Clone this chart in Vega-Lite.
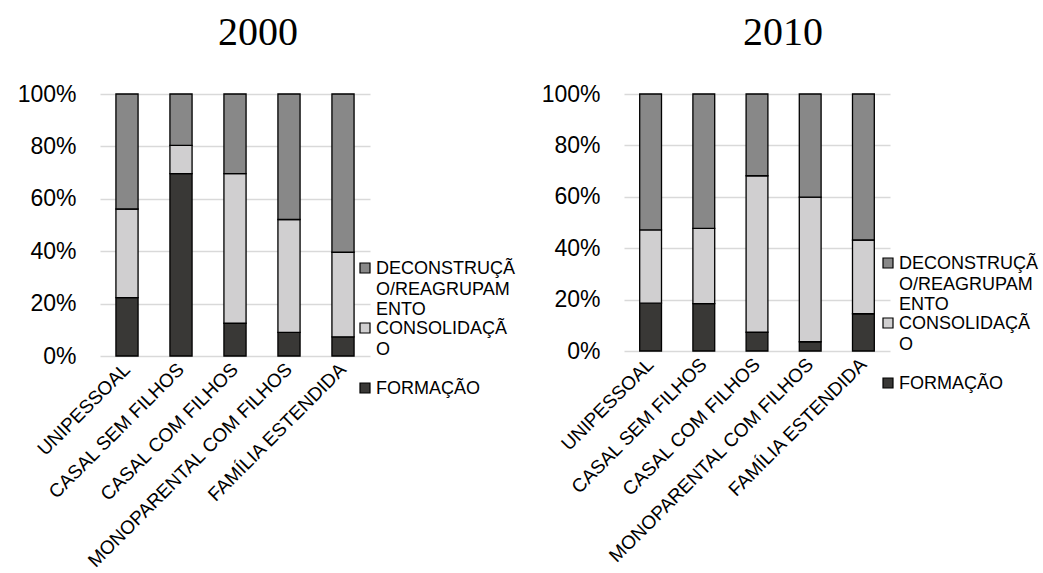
{
  "$schema": "https://vega.github.io/schema/vega-lite/v6.json",
  "padding": {"left": 17, "top": 13, "right": 0, "bottom": 0},
  "background": "white",
  "data": {"values": [
    {"ano": "2000", "tipo": "UNIPESSOAL", "fase": "FORMAÇÃO", "ordem": 1, "valor": 22.3},
    {"ano": "2000", "tipo": "UNIPESSOAL", "fase": "CONSOLIDAÇÃO", "ordem": 2, "valor": 33.8},
    {"ano": "2000", "tipo": "UNIPESSOAL", "fase": "DECONSTRUÇÃO/REAGRUPAMENTO", "ordem": 3, "valor": 43.9},
    {"ano": "2000", "tipo": "CASAL SEM FILHOS", "fase": "FORMAÇÃO", "ordem": 1, "valor": 69.6},
    {"ano": "2000", "tipo": "CASAL SEM FILHOS", "fase": "CONSOLIDAÇÃO", "ordem": 2, "valor": 10.8},
    {"ano": "2000", "tipo": "CASAL SEM FILHOS", "fase": "DECONSTRUÇÃO/REAGRUPAMENTO", "ordem": 3, "valor": 19.6},
    {"ano": "2000", "tipo": "CASAL COM FILHOS", "fase": "FORMAÇÃO", "ordem": 1, "valor": 12.5},
    {"ano": "2000", "tipo": "CASAL COM FILHOS", "fase": "CONSOLIDAÇÃO", "ordem": 2, "valor": 57.1},
    {"ano": "2000", "tipo": "CASAL COM FILHOS", "fase": "DECONSTRUÇÃO/REAGRUPAMENTO", "ordem": 3, "valor": 30.4},
    {"ano": "2000", "tipo": "MONOPARENTAL COM FILHOS", "fase": "FORMAÇÃO", "ordem": 1, "valor": 9.0},
    {"ano": "2000", "tipo": "MONOPARENTAL COM FILHOS", "fase": "CONSOLIDAÇÃO", "ordem": 2, "valor": 43.1},
    {"ano": "2000", "tipo": "MONOPARENTAL COM FILHOS", "fase": "DECONSTRUÇÃO/REAGRUPAMENTO", "ordem": 3, "valor": 47.9},
    {"ano": "2000", "tipo": "FAMÍLIA ESTENDIDA", "fase": "FORMAÇÃO", "ordem": 1, "valor": 7.3},
    {"ano": "2000", "tipo": "FAMÍLIA ESTENDIDA", "fase": "CONSOLIDAÇÃO", "ordem": 2, "valor": 32.3},
    {"ano": "2000", "tipo": "FAMÍLIA ESTENDIDA", "fase": "DECONSTRUÇÃO/REAGRUPAMENTO", "ordem": 3, "valor": 60.4},
    {"ano": "2010", "tipo": "UNIPESSOAL", "fase": "FORMAÇÃO", "ordem": 1, "valor": 18.6},
    {"ano": "2010", "tipo": "UNIPESSOAL", "fase": "CONSOLIDAÇÃO", "ordem": 2, "valor": 28.5},
    {"ano": "2010", "tipo": "UNIPESSOAL", "fase": "DECONSTRUÇÃO/REAGRUPAMENTO", "ordem": 3, "valor": 52.9},
    {"ano": "2010", "tipo": "CASAL SEM FILHOS", "fase": "FORMAÇÃO", "ordem": 1, "valor": 18.4},
    {"ano": "2010", "tipo": "CASAL SEM FILHOS", "fase": "CONSOLIDAÇÃO", "ordem": 2, "valor": 29.3},
    {"ano": "2010", "tipo": "CASAL SEM FILHOS", "fase": "DECONSTRUÇÃO/REAGRUPAMENTO", "ordem": 3, "valor": 52.3},
    {"ano": "2010", "tipo": "CASAL COM FILHOS", "fase": "FORMAÇÃO", "ordem": 1, "valor": 7.3},
    {"ano": "2010", "tipo": "CASAL COM FILHOS", "fase": "CONSOLIDAÇÃO", "ordem": 2, "valor": 60.9},
    {"ano": "2010", "tipo": "CASAL COM FILHOS", "fase": "DECONSTRUÇÃO/REAGRUPAMENTO", "ordem": 3, "valor": 31.8},
    {"ano": "2010", "tipo": "MONOPARENTAL COM FILHOS", "fase": "FORMAÇÃO", "ordem": 1, "valor": 3.6},
    {"ano": "2010", "tipo": "MONOPARENTAL COM FILHOS", "fase": "CONSOLIDAÇÃO", "ordem": 2, "valor": 56.3},
    {"ano": "2010", "tipo": "MONOPARENTAL COM FILHOS", "fase": "DECONSTRUÇÃO/REAGRUPAMENTO", "ordem": 3, "valor": 40.1},
    {"ano": "2010", "tipo": "FAMÍLIA ESTENDIDA", "fase": "FORMAÇÃO", "ordem": 1, "valor": 14.5},
    {"ano": "2010", "tipo": "FAMÍLIA ESTENDIDA", "fase": "CONSOLIDAÇÃO", "ordem": 2, "valor": 28.7},
    {"ano": "2010", "tipo": "FAMÍLIA ESTENDIDA", "fase": "DECONSTRUÇÃO/REAGRUPAMENTO", "ordem": 3, "valor": 56.8}
  ]},
  "config": {
    "view": {"stroke": null},
    "font": "Liberation Sans",
    "concat": {"spacing": 25},
    "axis": {"labelColor": "black", "domain": false, "ticks": false, "title": null},
    "legend": {"padding": 0}
  },
  "resolve": {"legend": {"color": "independent"}},
  "hconcat": [
    {
      "title": {"text": "2000", "font": "Liberation Serif", "fontSize": 40, "fontWeight": "normal", "color": "black", "dx": 23, "offset": 30},
      "transform": [{"filter": "datum.ano == '2000'"}],
      "width": 270,
      "height": 262,
      "mark": {"type": "bar", "stroke": "black", "strokeWidth": 1.3},
      "encoding": {
        "x": {"field": "tipo", "type": "nominal",
              "sort": ["UNIPESSOAL", "CASAL SEM FILHOS", "CASAL COM FILHOS", "MONOPARENTAL COM FILHOS", "FAMÍLIA ESTENDIDA"],
              "scale": {"paddingInner": 0.59, "paddingOuter": 0.295},
              "axis": {"labelAngle": -45, "labelAlign": "right", "labelBaseline": "middle", "labelFontSize": 19, "labelPadding": 10, "labelLimit": 400}},
        "y": {"field": "valor", "type": "quantitative", "stack": "zero",
              "scale": {"domain": [0, 100]},
              "axis": {"values": [0, 20, 40, 60, 80, 100], "labelExpr": "datum.value + '%'", "labelFontSize": 23, "labelPadding": 24, "grid": true, "gridColor": "#d9d9d9", "gridWidth": 1.5}},
        "color": {"field": "fase", "type": "nominal",
                  "scale": {"domain": ["DECONSTRUÇÃO/REAGRUPAMENTO", "CONSOLIDAÇÃO", "FORMAÇÃO"], "range": ["#888888", "#d0cfd0", "#393836"]},
                  "legend": {"title": null, "orient": "none", "legendX": 256, "legendY": 165,
                             "symbolType": "square", "symbolSize": 100, "symbolStrokeColor": "black", "symbolStrokeWidth": 1.2,
                             "labelFontSize": 18, "labelColor": "black", "labelBaseline": "top", "labelOffset": 2, "gridAlign": "all", "rowPadding": 0, "labelLimit": 300,
                             "labelExpr": "datum.label == 'FORMAÇÃO' ? 'FORMAÇÃO' : datum.label == 'CONSOLIDAÇÃO' ? ['CONSOLIDAÇÃ', 'O'] : ['DECONSTRUÇÃ', 'O/REAGRUPAM', 'ENTO']",
                             "encode": {"labels": {"update": {"lineHeight": {"value": 20.5}, "dy": {"value": -8}}}}}},
        "order": {"field": "ordem", "type": "quantitative"}
      }
    },
    {
      "title": {"text": "2010", "font": "Liberation Serif", "fontSize": 40, "fontWeight": "normal", "color": "black", "dx": 26, "offset": 30},
      "transform": [{"filter": "datum.ano == '2010'"}],
      "width": 266,
      "height": 257,
      "mark": {"type": "bar", "stroke": "black", "strokeWidth": 1.3},
      "encoding": {
        "x": {"field": "tipo", "type": "nominal",
              "sort": ["UNIPESSOAL", "CASAL SEM FILHOS", "CASAL COM FILHOS", "MONOPARENTAL COM FILHOS", "FAMÍLIA ESTENDIDA"],
              "scale": {"paddingInner": 0.59, "paddingOuter": 0.295},
              "axis": {"labelAngle": -45, "labelAlign": "right", "labelBaseline": "middle", "labelFontSize": 19, "labelPadding": 10, "labelLimit": 400}},
        "y": {"field": "valor", "type": "quantitative", "stack": "zero",
              "scale": {"domain": [0, 100]},
              "axis": {"values": [0, 20, 40, 60, 80, 100], "labelExpr": "datum.value + '%'", "labelFontSize": 23, "labelPadding": 24, "grid": true, "gridColor": "#d9d9d9", "gridWidth": 1.5}},
        "color": {"field": "fase", "type": "nominal",
                  "scale": {"domain": ["DECONSTRUÇÃO/REAGRUPAMENTO", "CONSOLIDAÇÃO", "FORMAÇÃO"], "range": ["#888888", "#d0cfd0", "#393836"]},
                  "legend": {"title": null, "orient": "none", "legendX": 255, "legendY": 160,
                             "symbolType": "square", "symbolSize": 100, "symbolStrokeColor": "black", "symbolStrokeWidth": 1.2,
                             "labelFontSize": 18, "labelColor": "black", "labelBaseline": "top", "labelOffset": 2, "gridAlign": "all", "rowPadding": 0, "labelLimit": 300,
                             "labelExpr": "datum.label == 'FORMAÇÃO' ? 'FORMAÇÃO' : datum.label == 'CONSOLIDAÇÃO' ? ['CONSOLIDAÇÃ', 'O'] : ['DECONSTRUÇÃ', 'O/REAGRUPAM', 'ENTO']",
                             "encode": {"labels": {"update": {"lineHeight": {"value": 20.5}, "dy": {"value": -8}}}}}},
        "order": {"field": "ordem", "type": "quantitative"}
      }
    }
  ]
}
